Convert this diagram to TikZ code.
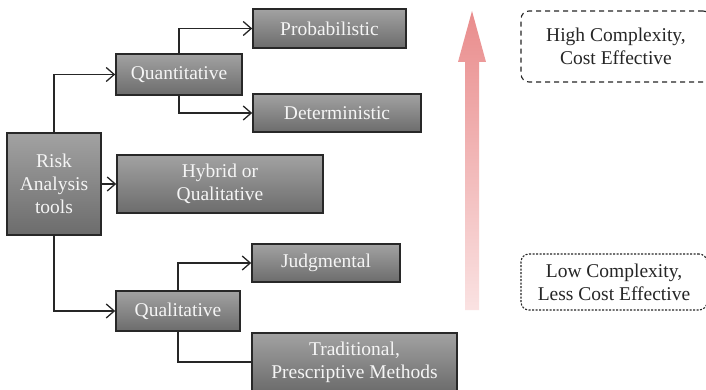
\documentclass[tikz,border=0pt]{standalone}
\usepackage{fontspec}
\setmainfont{Liberation Serif}
\usetikzlibrary{arrows.meta,shadings}
\definecolor{boxtop}{RGB}{162,162,162}
\definecolor{boxbot}{RGB}{108,108,108}
\definecolor{boxline}{RGB}{40,40,40}
\definecolor{boxtext}{RGB}{245,245,245}
\definecolor{arrtop}{RGB}{233,140,140}
\definecolor{arrbot}{RGB}{250,226,226}
\tikzset{
  graybox/.style={draw=boxline, line width=1.6pt, top color=boxtop, bottom color=boxbot,
    text=boxtext, font=\fontsize{19.5}{23}\selectfont, align=center, inner sep=0pt},
  conn/.style={draw=black!85, line width=1.3pt},
  arr/.style={conn, -{Straight Barb[length=8pt,width=14pt,line width=1.3pt]}},
  notebox/.style={draw=black!85, line width=1.1pt, rounded corners=8pt, align=center,
    font=\fontsize{19.5}{23}\selectfont, text=black!85, inner sep=0pt}
}
\begin{document}
\begin{tikzpicture}[x=1pt,y=-1pt]
\clip (0,0) rectangle (706,390);
\fill[white] (0,0) rectangle (706,390);
% boxes
\node[graybox, minimum width=94pt, minimum height=102pt] (risk) at (54,184) {Risk\\Analysis\\tools};
\node[graybox, minimum width=126pt, minimum height=41pt] (quant) at (179,74.5) {Quantitative};
\node[graybox, minimum width=153pt, minimum height=39pt] (prob) at (329.5,28.5) {Probabilistic};
\node[graybox, minimum width=168pt, minimum height=38pt] (det) at (337,113) {Deterministic};
\node[graybox, minimum width=206pt, minimum height=58pt] (hyb) at (220,184) {Hybrid or\\Qualitative};
\node[graybox, minimum width=148pt, minimum height=38pt] (judg) at (326,263) {Judgmental};
\node[graybox, minimum width=124pt, minimum height=40pt] (qual) at (178,311) {Qualitative};
\node[graybox, minimum width=205pt, minimum height=58pt] (trad) at (354.5,362) {Traditional,\\Prescriptive Methods};
% connectors
\draw[arr] (risk.north) |- (quant.west);
\draw[arr] (risk.east) -- (hyb.west);
\draw[arr] (risk.south) |- (qual.west);
\draw[arr] (quant.north) |- (prob.west);
\draw[arr] (quant.south) |- (det.west);
\draw[arr] (qual.north) |- (judg.west);
\draw[conn] (qual.south) |- (trad.west);
% big gradient arrow
\shade[top color=arrtop, bottom color=arrbot]
  (465,310) -- (465,62) -- (458,62) -- (472,11) -- (486,62) -- (479,62) -- (479,310) -- cycle;
% note boxes
\node[notebox, dashed, dash pattern=on 5pt off 4pt, minimum width=190pt, minimum height=71pt] (high) at (616,46.5) {High Complexity,\\Cost Effective};
\node[notebox, dash pattern=on 2pt off 1.5pt, minimum width=186pt, minimum height=56pt] (low) at (614,282) {Low Complexity,\\Less Cost Effective};
\end{tikzpicture}
\end{document}
